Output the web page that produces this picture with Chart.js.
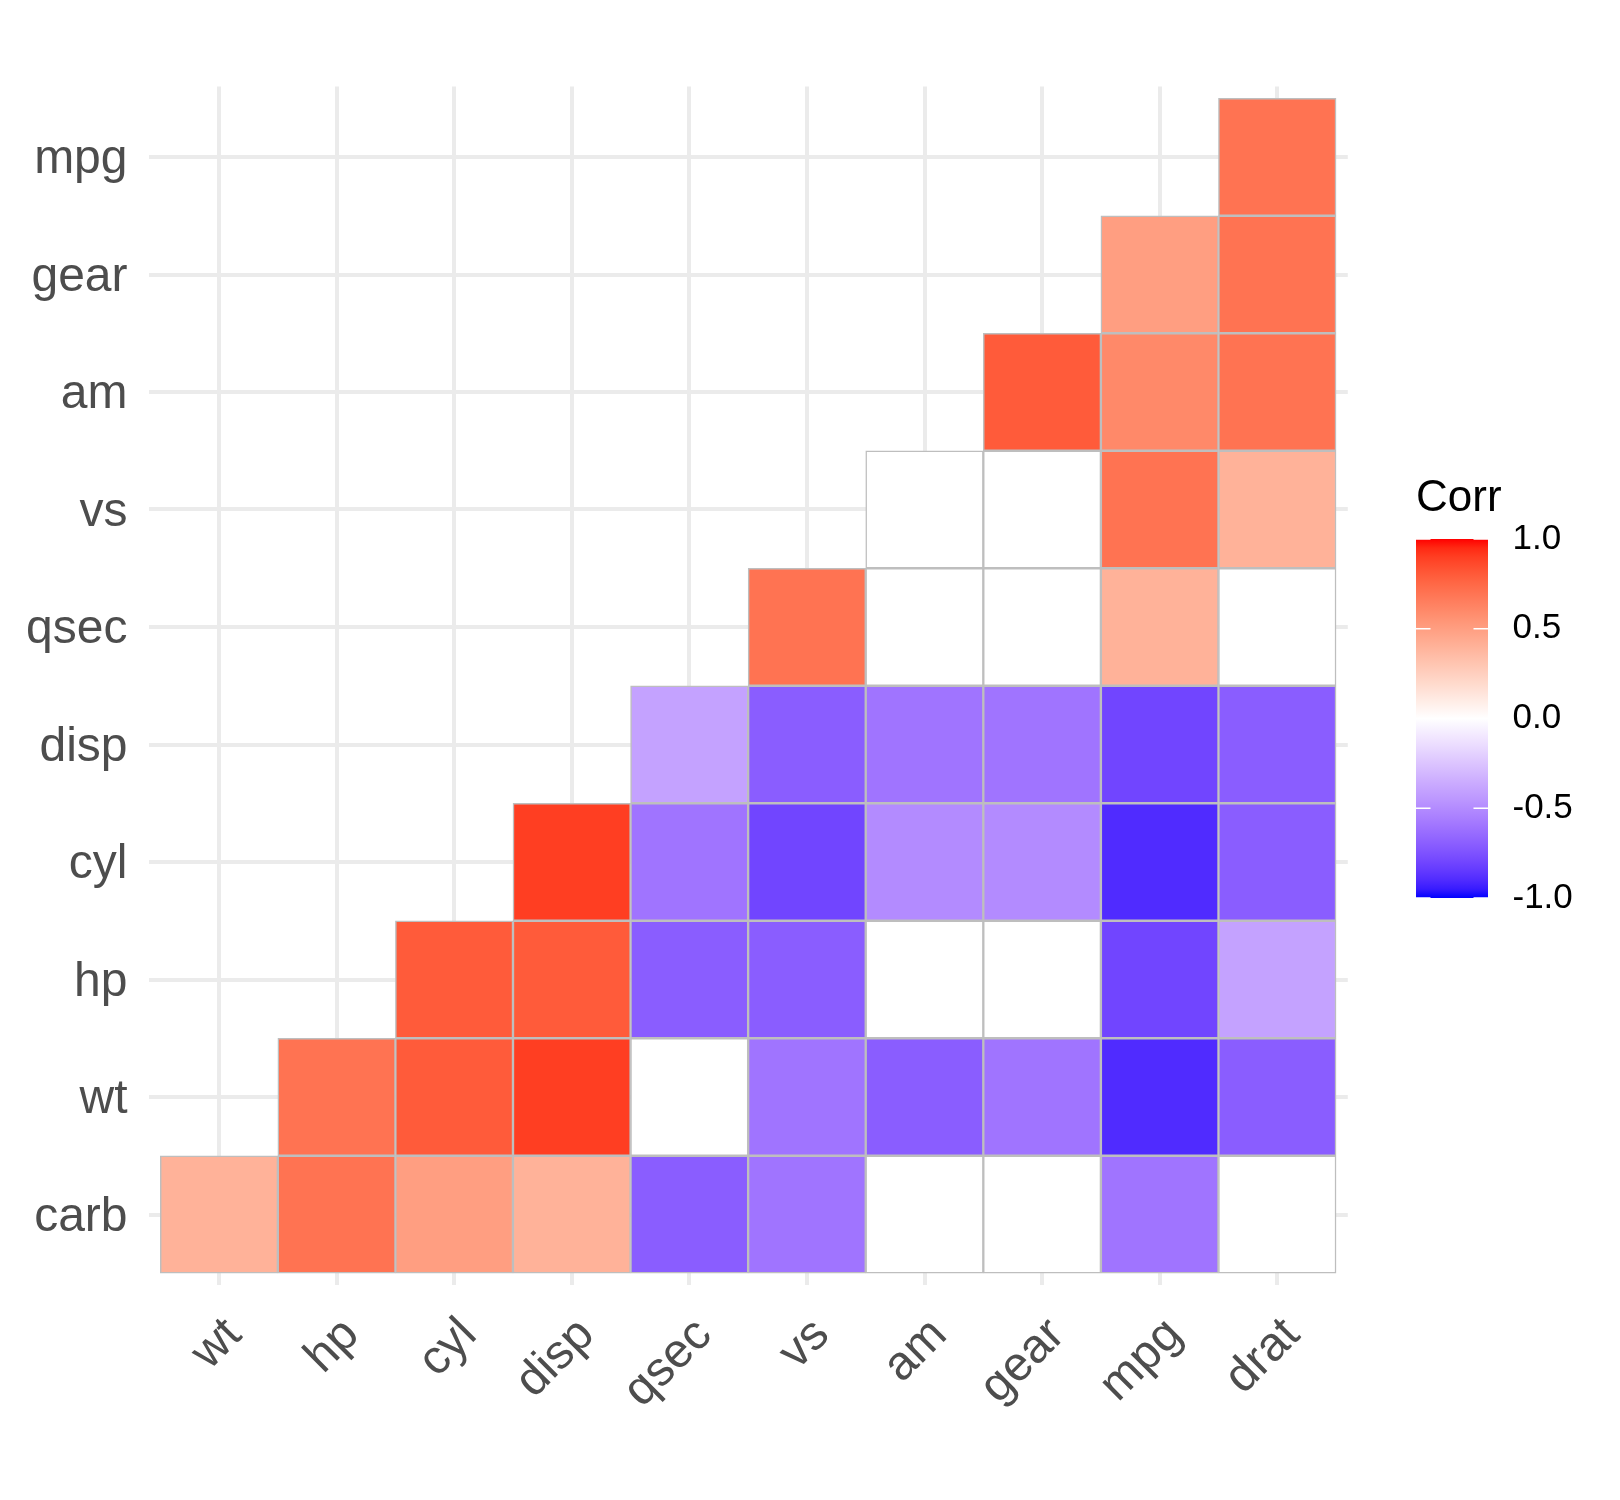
<!DOCTYPE html>
<html lang="en">
<head>
  <meta charset="UTF-8">
  <title>Corr</title>
  <style>
    body { margin: 0; background: #fff; }
    #wrap { width: 1620px; height: 1500px; }
  </style>
  <script src="https://cdn.jsdelivr.net/npm/chart.js"></script>
</head>
<body>
  <div id="wrap"><canvas id="corrplot"></canvas></div>

  <script>
    // variables, hc order
    const colNames = ['wt', 'hp', 'cyl', 'disp', 'qsec', 'vs', 'am', 'gear', 'mpg', 'drat'];
    const rowNames = ['carb', 'wt', 'hp', 'cyl', 'disp', 'qsec', 'vs', 'am', 'gear', 'mpg'];

    // one array per row, starting at that row's first column; null = not significant (blank)
    const corrCarb = [0.4, 0.7, 0.5, 0.4, -0.7, -0.6, null, null, -0.6, null];
    const corrWt   = [0.7, 0.8, 0.9, null, -0.6, -0.7, -0.6, -0.9, -0.7];
    const corrHp   = [0.8, 0.8, -0.7, -0.7, null, null, -0.8, -0.4];
    const corrCyl  = [0.9, -0.6, -0.8, -0.5, -0.5, -0.9, -0.7];
    const corrDisp = [-0.4, -0.7, -0.6, -0.6, -0.8, -0.7];
    const corrQsec = [0.7, null, null, 0.4, null];
    const corrVs   = [null, null, 0.7, 0.4];
    const corrAm   = [0.8, 0.6, 0.7];
    const corrGear = [0.5, 0.7];
    const corrMpg  = [0.7];
    const rows = [corrCarb, corrWt, corrHp, corrCyl, corrDisp, corrQsec, corrVs, corrAm, corrGear, corrMpg];

    const legendTicks = [1.0, 0.5, 0.0, -0.5, -1.0];

    // gradient2 (blue - white - red) interpolated in Lab, like ggplot
    function toLab(hex) {
      let c = [1, 3, 5].map(i => parseInt(hex.substr(i, 2), 16) / 255)
        .map(v => v <= 0.04045 ? v / 12.92 : Math.pow((v + 0.055) / 1.055, 2.4));
      let X = (c[0] * 0.4124 + c[1] * 0.3576 + c[2] * 0.1805) / 0.95047;
      let Y = (c[0] * 0.2126 + c[1] * 0.7152 + c[2] * 0.0722);
      let Z = (c[0] * 0.0193 + c[1] * 0.1192 + c[2] * 0.9505) / 1.08883;
      const f = t => t > 0.008856 ? Math.cbrt(t) : 7.787 * t + 16 / 116;
      return [116 * f(Y) - 16, 500 * (f(X) - f(Y)), 200 * (f(Y) - f(Z))];
    }
    function fromLab(lab) {
      let fy = (lab[0] + 16) / 116, fx = fy + lab[1] / 500, fz = fy - lab[2] / 200;
      const g = t => t * t * t > 0.008856 ? t * t * t : (t - 16 / 116) / 7.787;
      let X = g(fx) * 0.95047, Y = g(fy), Z = g(fz) * 1.08883;
      let r = X * 3.2406 + Y * -1.5372 + Z * -0.4986;
      let gg = X * -0.9689 + Y * 1.8758 + Z * 0.0415;
      let b = X * 0.0557 + Y * -0.2040 + Z * 1.0570;
      const h = v => {
        v = v <= 0.0031308 ? 12.92 * v : 1.055 * Math.pow(v, 1 / 2.4) - 0.055;
        return Math.round(Math.min(1, Math.max(0, v)) * 255);
      };
      return 'rgb(' + h(r) + ',' + h(gg) + ',' + h(b) + ')';
    }
    const labLow = toLab('#0000FF'), labMid = toLab('#FFFFFF'), labHigh = toLab('#FF0000');
    function corrColor(v) {
      if (v === null) return '#FFFFFF';
      const end = v < 0 ? labLow : labHigh;
      const t = Math.abs(v);
      return fromLab(labMid.map((m, i) => m + (end[i] - m) * t));
    }

    const datasets = rows.map((vals, r) => ({
      label: rowNames[r],
      data: vals.map((v, k) => ({ x: r + k + 1, y: [r + 0.5, r + 1.5], corr: v })),
      backgroundColor: vals.map(v => corrColor(v)),
      borderColor: '#BEBEBE',
      borderWidth: 1.5,
      borderSkipped: false,
      grouped: false,
      barPercentage: 1,
      categoryPercentage: 1
    }));

    const colorBar = {
      id: 'colorBar',
      afterDraw(chart) {
        const ctx = chart.ctx;
        const x0 = 1416, w = 72, top = 539, bottom = 898;
        const yOf = v => top + (1 - v) / 2 * (bottom - top);
        ctx.save();
        ctx.fillStyle = '#000';
        ctx.font = '44px "Liberation Sans", Arial, sans-serif';
        ctx.textAlign = 'left';
        ctx.textBaseline = 'alphabetic';
        ctx.fillText('Corr', 1416, 511);
        const grad = ctx.createLinearGradient(0, top, 0, bottom);
        for (let i = 0; i <= 40; i++) {
          grad.addColorStop(i / 40, corrColor(1 - i / 20));
        }
        ctx.fillStyle = grad;
        ctx.fillRect(x0, top, w, bottom - top);
        ctx.strokeStyle = '#FFFFFF';
        ctx.lineWidth = 1.5;
        ctx.font = '35px "Liberation Sans", Arial, sans-serif';
        ctx.textBaseline = 'middle';
        legendTicks.forEach(v => {
          const y = yOf(v);
          ctx.beginPath();
          ctx.moveTo(x0, y); ctx.lineTo(x0 + 14.5, y);
          ctx.moveTo(x0 + w - 14.5, y); ctx.lineTo(x0 + w, y);
          ctx.stroke();
          ctx.fillStyle = '#000';
          ctx.fillText(v.toFixed(1), 1512.5, y);
        });
        ctx.restore();
      }
    };

    const axisFont = { family: '"Liberation Sans", Arial, sans-serif', size: 48, lineHeight: 1.2 };

    new Chart(document.getElementById('corrplot'), {
      type: 'bar',
      data: { datasets: datasets },
      options: {
        responsive: true,
        maintainAspectRatio: false,
        animation: false,
        layout: { padding: { top: 86.5, right: 272.2, left: 0, bottom: 0 } },
        plugins: {
          legend: { display: false },
          tooltip: { enabled: false }
        },
        scales: {
          x: {
            type: 'linear',
            offset: false,
            min: 0.4,
            max: 10.6,
            afterBuildTicks: s => { s.ticks = colNames.map((_, i) => ({ value: i + 1 })); },
            afterFit: s => { s.height = 215; },
            grid: { color: '#EBEBEB', lineWidth: 4, drawTicks: false, offset: false },
            border: { display: false },
            ticks: {
              autoSkip: false,
              minRotation: 45,
              maxRotation: 45,
              padding: 22,
              labelOffset: 15,
              color: '#4D4D4D',
              font: axisFont,
              callback: v => colNames[v - 1]
            }
          },
          y: {
            type: 'linear',
            min: 0.4,
            max: 10.6,
            afterBuildTicks: s => { s.ticks = rowNames.map((_, i) => ({ value: i + 1 })); },
            afterFit: s => { s.width = 148.5; },
            grid: { color: '#EBEBEB', lineWidth: 4, drawTicks: false },
            border: { display: false },
            ticks: {
              padding: 21,
              labelOffset: 3,
              color: '#4D4D4D',
              font: axisFont,
              callback: v => rowNames[v - 1]
            }
          }
        }
      },
      plugins: [colorBar]
    });
  </script>
</body>
</html>
